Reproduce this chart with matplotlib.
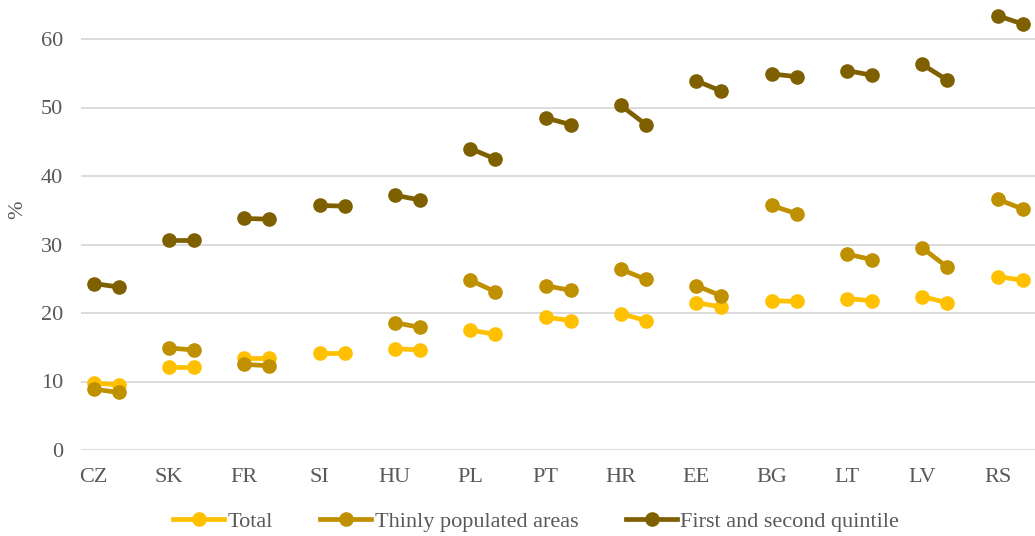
import matplotlib
matplotlib.use("Agg")
import matplotlib.pyplot as plt
from matplotlib.lines import Line2D

countries = ["CZ", "SK", "FR", "SI", "HU", "PL", "PT", "HR", "EE", "BG", "LT", "LV", "RS"]

# two reference points per country (earlier / later)
total_a = [9.8, 12.1, 13.4, 14.2, 14.8, 17.5, 19.4, 19.9, 21.5, 21.8, 22.1, 22.4, 25.3]
total_b = [9.5, 12.1, 13.4, 14.2, 14.6, 16.9, 18.9, 18.9, 20.9, 21.7, 21.8, 21.5, 24.8]

thin_a = [8.9, 14.9, 12.5, None, 18.6, 24.8, 24.0, 26.4, 24.0, 35.7, 28.6, 29.5, 36.6]
thin_b = [8.4, 14.6, 12.3, None, 17.9, 23.1, 23.3, 24.9, 22.5, 34.5, 27.8, 26.7, 35.2]

q12_a = [24.3, 30.6, 33.8, 35.7, 37.2, 44.0, 48.5, 50.3, 53.9, 54.9, 55.4, 56.3, 63.4]
q12_b = [23.8, 30.6, 33.7, 35.6, 36.5, 42.5, 47.5, 47.5, 52.4, 54.5, 54.7, 54.0, 62.2]

series_names = ["Total", "Thinly populated areas", "First and second quintile"]
colors = ["#FFC000", "#BF9000", "#7F6000"]
y_ticks = [0, 10, 20, 30, 40, 50, 60]

W, H = 1035, 536
fig = plt.figure(figsize=(W / 100, H / 100), dpi=100)
ax = fig.add_axes([81 / W, (H - 450) / H, (W - 81) / W, 450 / H])

text_color = "#595959"
font = "Liberation Serif"
fs = 16

series = [(total_a, total_b), (thin_a, thin_b), (q12_a, q12_b)]
for (a_vals, b_vals), color in zip(series, colors):
    for i, (a, b) in enumerate(zip(a_vals, b_vals)):
        if a is None or b is None:
            continue
        ax.plot([3 * i, 3 * i + 1], [a, b], color=color, lw=3.4,
                marker="o", markersize=9.5, solid_capstyle="round", zorder=3)

ax.set_xlim(-0.5, -0.5 + (W - 81) / 25.11)
ax.set_ylim(0, 450 / 6.85)

ax.set_yticks(y_ticks)
ax.set_yticklabels([str(v) for v in y_ticks], fontfamily=font, fontsize=fs, color=text_color)
ax.set_xticks([3 * i for i in range(len(countries))])
ax.set_xticklabels(countries, fontfamily=font, fontsize=fs, color=text_color)
ax.tick_params(axis="both", length=0)
ax.tick_params(axis="y", pad=13)
ax.tick_params(axis="x", pad=13)

ax.grid(axis="y", color="#D9D9D9", lw=1.3, zorder=0)
ax.set_axisbelow(True)
for s in ax.spines.values():
    s.set_visible(False)

fig.text(18 / W, 1 - 210 / H, "%", rotation=90, ha="center", va="center",
         fontfamily=font, fontsize=fs, color=text_color)

handles = [Line2D([0], [0], color=c, lw=3.4, marker="o", markersize=9.5) for c in colors]
leg = fig.legend(handles, series_names, loc="center", bbox_to_anchor=(536 / W, 1 - 522 / H),
                 ncol=3, frameon=False, handlelength=2.3, handletextpad=0.14,
                 columnspacing=2.15, prop={"family": font, "size": fs})
for t in leg.get_texts():
    t.set_color(text_color)

fig.savefig("out.png", dpi=100)
